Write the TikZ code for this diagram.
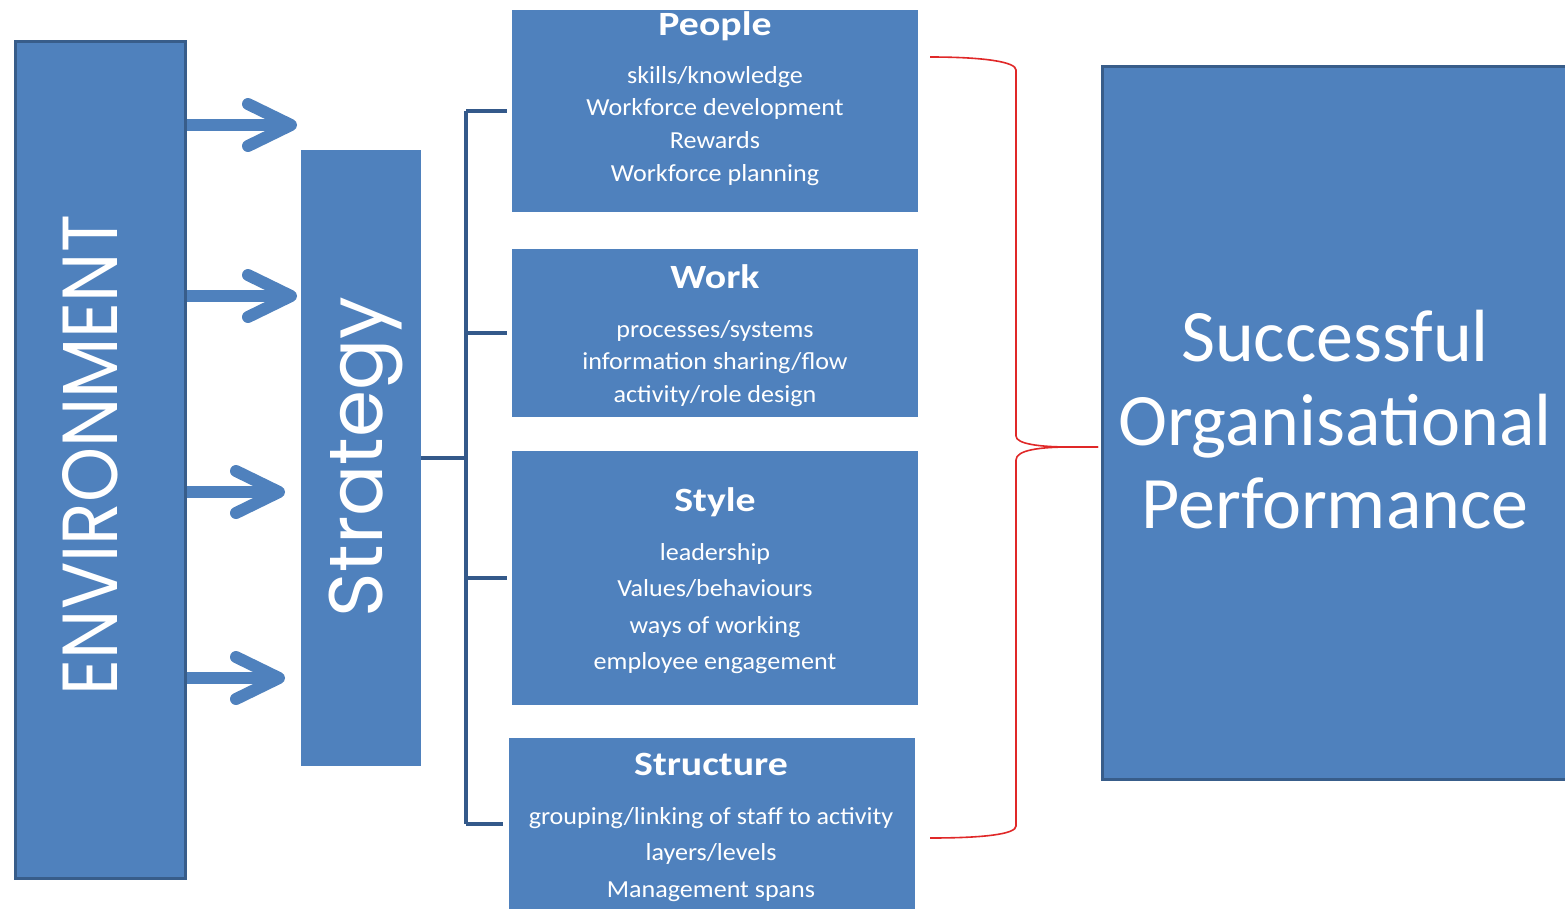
\documentclass[tikz,border=0pt]{standalone}
\usepackage{fontspec}
\usepackage{graphicx}
\setmainfont{Carlito}
\newfontfamily\geo{Poppins}
\definecolor{boxblue}{HTML}{4F81BD}
\definecolor{edgeblue}{HTML}{385D8A}
\definecolor{connblue}{HTML}{34598A}
\definecolor{bracered}{HTML}{E02828}
\newcommand{\wid}[1]{\scalebox{1.065}[1]{#1}}
\tikzset{
  blk/.style={fill=boxblue, draw=none, rectangle, inner sep=0pt, anchor=north west},
  blkedge/.style={blk, draw=edgeblue, line width=3pt},
  txt/.style={text=white, inner sep=0pt, anchor=base},
  ttl/.style={txt, font=\fontsize{34}{40}\selectfont\bfseries},
  itm/.style={txt, font=\fontsize{24.5}{29}\selectfont},
  big/.style={txt, font=\fontsize{74}{86}\selectfont},
  shaft/.style={draw=boxblue, line width=12pt},
  chev/.style={draw=boxblue, line width=12pt, line cap=round, line join=round},
  conn/.style={draw=connblue, line width=3.5pt},
  brace/.style={draw=bracered, line width=1.6pt}
}
\begin{document}
\begin{tikzpicture}[x=1pt,y=-1pt]
\useasboundingbox (0,0) rectangle (1565,908);
\fill[white] (0,0) rectangle (1565,908);
\begin{scope}
\clip (0,0) rectangle (1565,908);
% main blocks
\node[blkedge, minimum width=170pt, minimum height=837pt] (env) at (13.5,39.5) {};
\node[blk, minimum width=120pt, minimum height=616pt] (strat) at (301,150) {};
\node[blk, minimum width=406pt, minimum height=202pt] (people) at (512,10) {};
\node[blk, minimum width=406pt, minimum height=168pt] (work) at (512,249) {};
\node[blk, minimum width=406pt, minimum height=254pt] (style) at (512,451) {};
\node[blk, minimum width=406pt, minimum height=172pt] (struct) at (509,738) {};
\node[blkedge, minimum width=480pt, minimum height=713pt] (succ) at (1100.5,64.5) {};
\end{scope}
% rotated texts
\node[txt, anchor=center, rotate=90] (envt) at (90,455) {\resizebox{480pt}{55pt}{\geo ENVIRONMENT}};
\node[txt, anchor=center, rotate=90] (stratt) at (366,457) {\resizebox{320pt}{!}{\geo Strategy}};
% People
\node[ttl] (pt) at (715,35) {\scalebox{1.17}[1]{People}};
\node[itm] (p1) at (715,83) {\wid{skills/knowledge}};
\node[itm] (p2) at (715,115) {\wid{Workforce development}};
\node[itm] (p3) at (715,148) {\wid{Rewards}};
\node[itm] (p4) at (715,181) {\wid{Workforce planning}};
% Work
\node[ttl] (wt) at (715,288) {\scalebox{1.17}[1]{Work}};
\node[itm] (w1) at (715,337) {\wid{processes/systems}};
\node[itm] (w2) at (715,369) {\wid{information sharing/flow}};
\node[itm] (w3) at (715,402) {\wid{activity/role design}};
% Style
\node[ttl] (yt) at (715,511) {\scalebox{1.17}[1]{Style}};
\node[itm] (y1) at (715,560) {\wid{leadership}};
\node[itm] (y2) at (715,596) {\wid{Values/behaviours}};
\node[itm] (y3) at (715,633) {\wid{ways of working}};
\node[itm] (y4) at (715,669) {\wid{employee engagement}};
% Structure
\node[ttl] (st) at (711,775) {\scalebox{1.17}[1]{Structure}};
\node[itm] (s1) at (711,824) {\wid{grouping/linking of staff to activity}};
\node[itm] (s2) at (711,860) {\wid{layers/levels}};
\node[itm] (s3) at (711,897) {\wid{Management spans}};
% Successful
\node[big] (o1) at (1335,361) {Successful};
\node[big] (o2) at (1335,445) {Organisational};
\node[big] (o3) at (1335,528) {Performance};
% arrows
\foreach \n/\y/\tx in {a/125/291, b/296/291, c/492/279, d/678/279}{
  \coordinate (\n tip) at (\tx,\y);
  \draw[shaft] (env.east |- \n tip) -- ([xshift=-6pt]\n tip);
  \draw[chev] ([shift={(-43pt,-21pt)}]\n tip) -- (\n tip) -- ([shift={(-43pt,21pt)}]\n tip);
}
% bracket connectors
\coordinate (bj) at (466,458);
\draw[conn] (strat.east |- bj) -- (bj);
\draw[conn] (bj |- people.west) -- (bj |- struct.west);
\draw[conn, shorten >=5pt] (bj |- people.west) -- (people.west);
\draw[conn, shorten >=5pt] (bj |- work.west) -- (work.west);
\draw[conn, shorten >=5pt] (bj |- style.west) -- (style.west);
\draw[conn, shorten >=6pt] (bj |- struct.west) -- (struct.west);
% red brace
\coordinate (btop) at (930,57);
\coordinate (bbot) at (930,838);
\coordinate (btip) at (1098,447);
\draw[brace] (btop) .. controls (985,57) and (1016,62) .. (1016,70) -- (1016,436)
  .. controls (1016,444) and (1040,447) .. (1070,447) -- (btip);
\draw[brace] (btip) -- (1070,447) .. controls (1040,447) and (1016,450) .. (1016,460)
  -- (1016,826) .. controls (1016,834) and (985,838) .. (bbot);
\end{tikzpicture}
\end{document}
